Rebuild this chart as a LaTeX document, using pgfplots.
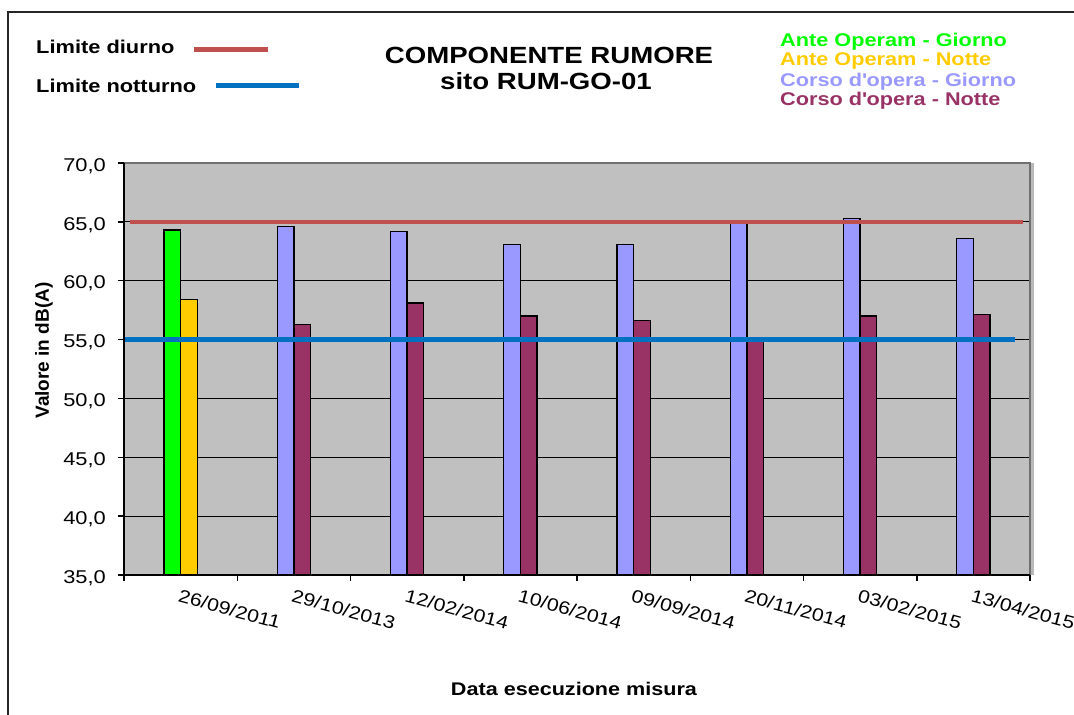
\documentclass[border=0pt]{standalone}
\usepackage{fontspec}
\setmainfont{Liberation Sans}[FakeStretch=1.18]
\newfontfamily\plainfont{Liberation Sans}
\usepackage{pgfplots}
\pgfplotsset{compat=1.18}
\definecolor{limred}{HTML}{C0504D}
\definecolor{limblue}{HTML}{0070C0}
\definecolor{cgreen}{HTML}{00FF00}
\definecolor{cyellow}{HTML}{FFCC00}
\definecolor{clav}{HTML}{9999FF}
\definecolor{cplum}{HTML}{993366}
\definecolor{plotbg}{HTML}{C0C0C0}
\definecolor{bordergray}{HTML}{707070}
\begin{document}
\begin{tikzpicture}[x=1pt,y=1pt]
\useasboundingbox (0,0) rectangle (1074,715);
\draw[line width=1.3pt, black!85] (8,-5) -- (8,703) -- (1080,703);
\begin{axis}[
  at={(124pt,140pt)}, anchor=south west, scale only axis,
  width=906pt, height=412pt,
  xmin=-0.5, xmax=7.5, ymin=35, ymax=70,
  axis background/.style={fill=plotbg},
  axis line style={draw=none},
  xtick={-0.5,0.5,...,7.5},
  xticklabels={26/09/2011,29/10/2013,12/02/2014,10/06/2014,09/09/2014,20/11/2014,03/02/2015,13/04/2015,{}},
  ytick={35,40,...,70},
  ymajorgrids, grid style={black, line width=1pt},
  tick align=outside, major tick length=6pt,
  tick style={black, line width=1.5pt},
  xtick pos=bottom, ytick pos=left,
  /pgf/number format/assume math mode=true,
  yticklabel style={font=\fontsize{18.5}{20}\selectfont, anchor=east, inner sep=0pt, xshift=-12pt, yshift=-3pt,
    /pgf/number format/fixed, /pgf/number format/fixed zerofill,
    /pgf/number format/precision=1, /pgf/number format/use comma},
  xticklabel style={font=\fontsize{18}{19}\selectfont, inner sep=0pt, xshift=56.6pt, yshift=-8pt, rotate=-15, anchor=north west},
]
% day bars
\addplot[ybar, bar width=0.146, bar shift=-0.073, fill=cgreen, draw=black, line width=1.3pt] coordinates {(0,64.3)};
\addplot[ybar, bar width=0.146, bar shift=-0.073, fill=clav, draw=black, line width=1.3pt] coordinates {(1,64.6) (2,64.2) (3,63.1) (4,63.1) (5,65.0) (6,65.3) (7,63.6)};
% night bars
\addplot[ybar, bar width=0.146, bar shift=0.073, fill=cyellow, draw=black, line width=1.3pt] coordinates {(0,58.4)};
\addplot[ybar, bar width=0.146, bar shift=0.073, fill=cplum, draw=black, line width=1.3pt] coordinates {(1,56.3) (2,58.1) (3,57.0) (4,56.6) (5,55.0) (6,57.0) (7,57.1)};
% limits
\addplot[limred, line width=4.6pt, mark=none] coordinates {(-0.447,65) (7.438,65)};
\addplot[limblue, line width=4.6pt, mark=none] coordinates {(-0.5,55) (7.367,55)};
\end{axis}
% plot border
\draw[line width=2.5pt, gray!55] (1032.5,140) -- (1032.5,552);
\draw[line width=2pt, bordergray] (124,552) -- (1030,552) -- (1030,140);
\draw[line width=2pt, black] (124,552) -- (124,140) -- (1030,140);
% left legend
\node[anchor=base west, inner sep=0pt, font=\bfseries\fontsize{18.5}{20}\selectfont] at (36,661.7) {Limite diurno};
\node[anchor=base west, inner sep=0pt, font=\bfseries\fontsize{18.5}{20}\selectfont] at (36,622.3) {Limite notturno};
\draw[limred, line width=4.6pt] (194,665.7) -- (268,665.7);
\draw[limblue, line width=4.6pt] (216,629.7) -- (299,629.7);
% title
\node[anchor=base, inner sep=0pt, font=\bfseries\fontsize{23.4}{25}\selectfont] at (549,651.7) {COMPONENTE RUMORE};
\node[anchor=base, inner sep=0pt, font=\bfseries\fontsize{23.4}{25}\selectfont] at (546,625.7) {sito RUM-GO-01};
% right legend
\node[anchor=base west, inner sep=0pt, text=cgreen, font=\bfseries\fontsize{18.4}{20}\selectfont] at (780,668.3) {Ante Operam - Giorno};
\node[anchor=base west, inner sep=0pt, text=cyellow, font=\bfseries\fontsize{18.4}{20}\selectfont] at (780,649.3) {Ante Operam - Notte};
\node[anchor=base west, inner sep=0pt, text=clav, font=\bfseries\fontsize{18.4}{20}\selectfont] at (780,628.3) {Corso d\textquotesingle opera - Giorno};
\node[anchor=base west, inner sep=0pt, text=cplum, font=\bfseries\fontsize{18.4}{20}\selectfont] at (780,609) {Corso d\textquotesingle opera - Notte};
% axis titles
\node[anchor=base, inner sep=0pt, font=\bfseries\fontsize{18.3}{20}\selectfont] at (574,19) {Data esecuzione misura};
\node[rotate=90, anchor=center, inner sep=0pt, font=\plainfont\bfseries\fontsize{19}{20}\selectfont] at (44,364.5) {Valore in dB(A)};
\end{tikzpicture}
\end{document}
